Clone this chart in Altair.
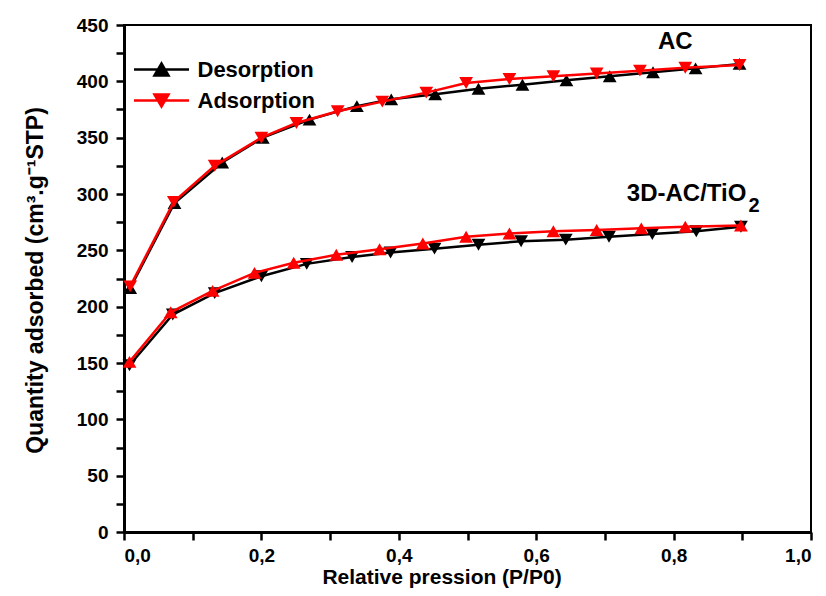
import altair as alt
import pandas as pd

# ---- data ----
ac_ads_x = [0.009, 0.0725, 0.132, 0.200, 0.251, 0.311, 0.376, 0.440, 0.498, 0.561, 0.625, 0.688, 0.751, 0.817, 0.896]
ac_ads_y = [218, 293, 325, 350, 363, 373.5, 382, 390, 398.5, 402, 404.5, 407, 409.5, 412, 414.5]

ac_des_x = [0.009, 0.0735, 0.143, 0.202, 0.270, 0.339, 0.389, 0.453, 0.516, 0.580, 0.644, 0.707, 0.770, 0.832, 0.896]
ac_des_y = [216.5, 292, 328, 350, 366, 378, 384, 388.5, 393.5, 397, 401, 404.5, 408, 411.5, 415.5]

ti_ads_x = [0.008, 0.068, 0.129, 0.190, 0.247, 0.309, 0.372, 0.435, 0.498, 0.561, 0.625, 0.688, 0.753, 0.817, 0.898]
ti_ads_y = [151, 195, 214, 230, 239, 246, 251, 256, 262, 265, 267, 268, 269.5, 271, 272]

ti_des_x = [0.008, 0.071, 0.132, 0.200, 0.266, 0.332, 0.388, 0.452, 0.516, 0.578, 0.643, 0.706, 0.769, 0.833, 0.898]
ti_des_y = [148, 193, 212, 227, 238, 244, 248, 251.5, 255, 258, 259.5, 262, 264.5, 267, 271]

legend_entries = ["Desorption", "Adsorption"]
x_ticks = [round(k * 0.1, 1) for k in range(11)]
y_ticks = list(range(0, 451, 25))

label_text = ["AC", "3D-AC/TiO", "2"]
label_x = [0.8025, 0.906, 0.909]
label_y = [428.3, 293.5, 283.7]

FONT = "Liberation Sans"
BLACK = "#000000"
RED = "#ff0000"

x_enc = alt.X(
    "p:Q",
    scale=alt.Scale(domain=[0, 1], nice=False, zero=False),
    axis=alt.Axis(
        values=x_ticks,
        labelExpr="round(datum.value*10) % 2 === 0 ? replace(format(datum.value, '.1f'), '.', ',') : ''",
        ticks=True,
        tickSize=8,
        tickWidth=2.5,
        tickColor=BLACK,
        domain=True,
        domainWidth=3,
        domainColor=BLACK,
        labelPadding=6,
        labelFontSize=19,
        titleFontSize=21,
        titleX=317.5,
        titleY=51,
        titleBaseline="alphabetic",
        titleAnchor="middle",
    ),
    title="Relative pression (P/P0)",
)
y_enc = alt.Y(
    "q:Q",
    scale=alt.Scale(domain=[0, 450], nice=False),
    axis=alt.Axis(
        values=y_ticks,
        labelExpr="datum.value % 50 === 0 ? datum.label : ''",
        ticks=True,
        tickSize=8,
        tickWidth=2.5,
        tickColor=BLACK,
        domain=True,
        domainWidth=3,
        domainColor=BLACK,
        labelPadding=8,
        labelFontSize=19,
        titleFontSize=23,
        titleX=-89,
        titleY=255,
        titleBaseline="middle",
        titleAnchor="middle",
    ),
    title="Quantity adsorbed (cm³.g⁻¹STP)",
)


def series(xs, ys, color, shape):
    d = pd.DataFrame({"p": xs, "q": ys})
    base = alt.Chart(d)
    line = base.mark_line(color=color, strokeWidth=2.5).encode(x=x_enc, y=y_enc)
    pts = base.mark_point(filled=True, color=color, shape=shape, size=190, opacity=1).encode(x=x_enc, y=y_enc)
    return [line, pts]


layers = []
layers += series(ac_des_x, ac_des_y, BLACK, "triangle-up")
layers += series(ti_des_x, ti_des_y, BLACK, "triangle-down")
layers += series(ac_ads_x, ac_ads_y, RED, "triangle-down")
layers += series(ti_ads_x, ti_ads_y, RED, "triangle-up")

# text annotations
lab = pd.DataFrame({"t": label_text, "p": label_x, "q": label_y})
t_ac = alt.Chart(lab).transform_filter("datum.t === 'AC'").mark_text(
    font=FONT, fontWeight="bold", fontSize=24, align="center", baseline="alphabetic", color=BLACK
).encode(x=x_enc, y=y_enc, text="t:N")
t_ti = alt.Chart(lab).transform_filter("datum.t === '3D-AC/TiO'").mark_text(
    font=FONT, fontWeight="bold", fontSize=24, align="right", baseline="alphabetic", color=BLACK
).encode(x=x_enc, y=y_enc, text="t:N")
t_sub = alt.Chart(lab).transform_filter("datum.t === '2'").mark_text(
    font=FONT, fontWeight="bold", fontSize=20, align="left", baseline="alphabetic", color=BLACK
).encode(x=x_enc, y=y_enc, text="t:N")
layers += [t_ac, t_ti, t_sub]

# legend (line + triangle symbols); path extends beyond the nominal [-1,1] box
path_up = "M-2.75,0L2.75,0M-0.7,0.6L0,-0.6L0.7,0.6Z"
path_down = "M-2.75,0L2.75,0M-0.7,-0.6L0,0.6L0.7,-0.6Z"
leg = alt.Legend(
    orient="none",
    legendX=26,
    legendY=33,
    title=None,
    labelFont=FONT,
    labelFontSize=22,
    labelFontWeight="bold",
    labelColor=BLACK,
    labelOffset=24.5,
    symbolSize=400,
    symbolStrokeWidth=2.5,
    symbolOpacity=1,
    rowPadding=8,
    padding=0,
)
leg_df = pd.DataFrame({"entry": legend_entries, "p": [0.5, 0.5], "q": [0, 0]})
legend_layer = alt.Chart(leg_df).transform_filter("false").mark_point(filled=True, strokeWidth=2.5, opacity=1).encode(
    x=x_enc,
    y=y_enc,
    fill=alt.Fill("entry:N", scale=alt.Scale(domain=legend_entries, range=[BLACK, RED]), legend=leg),
    stroke=alt.Stroke("entry:N", scale=alt.Scale(domain=legend_entries, range=[BLACK, RED]), legend=leg),
    shape=alt.Shape("entry:N", scale=alt.Scale(domain=legend_entries, range=[path_up, path_down]), legend=leg),
)
layers.append(legend_layer)

chart = alt.layer(*layers).properties(
    width=687,
    height=507,
    autosize=alt.AutoSizeParams(type="none"),
    padding={"left": 116, "top": 17, "right": 7, "bottom": 56},
).configure_view(
    stroke=BLACK, strokeWidth=2
).configure_axis(
    grid=False,
    labelFont=FONT,
    labelFontWeight="bold",
    labelColor=BLACK,
    titleFont=FONT,
    titleFontWeight="bold",
    titleColor=BLACK,
)

chart.save("out.html", embed_options={"renderer": "svg", "actions": False})
